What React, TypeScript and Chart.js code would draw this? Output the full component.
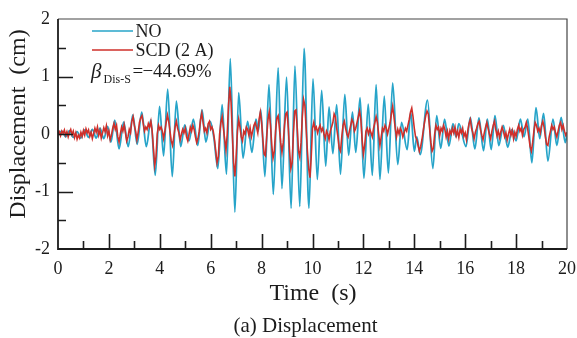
import React, { useEffect, useRef } from 'react';
import { Chart, registerables } from 'chart.js';

Chart.register(...registerables);

// ---- data ----
const xTickValues = [0, 2, 4, 6, 8, 10, 12, 14, 16, 18, 20];
const yTickValues = [-2, -1, 0, 1, 2];
const seriesNames = ['NO', 'SCD (2 A)'];

// NO (uncontrolled) – turning points of the response, time in s
const noTime = [0, 0.15, 0.3, 0.45, 0.6, 0.75, 0.9, 1.05, 1.2, 1.35, 1.5, 1.65, 1.8, 1.95, 2.08, 2.23, 2.4, 2.58, 2.76, 2.94,
  3.11, 3.29, 3.47, 3.65, 3.82, 3.99, 4.15, 4.31, 4.49, 4.65, 4.82, 4.98, 5.15, 5.32, 5.49, 5.66, 5.81, 5.98, 6.12, 6.28,
  6.45, 6.62, 6.77, 6.95, 7.1, 7.27, 7.45, 7.62, 7.78, 7.87, 7.97, 8.13, 8.29, 8.46, 8.65, 8.8, 8.98, 9.16, 9.31, 9.5,
  9.67, 9.86, 10.02, 10.19, 10.36, 10.52, 10.65, 10.8, 10.95, 11.1, 11.27, 11.42, 11.57, 11.7, 11.87, 12.02, 12.19, 12.35, 12.5, 12.65,
  12.82, 12.98, 13.15, 13.35, 13.5, 13.72, 13.86, 14.0, 14.1, 14.23, 14.52, 14.73, 14.88, 15.04, 15.19, 15.36, 15.52, 15.64, 15.75, 16.03,
  16.2, 16.38, 16.54, 16.72, 16.87, 17.02, 17.17, 17.32, 17.5, 17.67, 17.84, 18.0, 18.17, 18.31, 18.46, 18.62, 18.78, 18.93, 19.08, 19.25,
  19.45, 19.6, 19.77, 19.93, 20];
const noDisp = [0, 0.05, -0.05, 0.06, -0.06, 0.04, -0.07, 0.07, -0.06, 0.08, -0.07, 0.1, -0.08, 0.13, -0.14, 0.24, -0.26, 0.21, -0.22, 0.33,
  -0.18, 0.38, -0.22, 0.25, -0.72, 0.48, -0.38, 0.78, -0.74, 0.57, -0.22, 0.16, -0.12, 0.26, -0.2, 0.42, -0.14, 0.22, -0.05, -0.6,
  0.51, -0.7, 1.31, -1.36, 0.72, -0.42, 0.22, -0.32, 0.26, 0.05, 0.42, -0.74, 0.86, -1.05, 1.15, -0.95, 0.99, -1.29, 1.18, -1.26,
  1.49, -1.29, 0.96, -0.79, 0.76, -0.56, 0.47, -0.34, 0.51, -0.7, 0.69, -0.37, 0.38, -0.32, 0.63, -0.77, 0.52, -0.72, 0.86, -0.79,
  0.66, -0.68, 0.89, -0.53, 0.2, -0.27, 0.38, -0.3, -0.05, -0.36, 0.59, -0.6, 0.32, -0.25, 0.26, -0.21, 0.18, -0.05, 0.18, -0.22,
  0.29, -0.26, 0.28, -0.29, 0.26, -0.27, 0.32, -0.2, 0.15, -0.23, 0.08, -0.12, 0.26, -0.05, 0.26, -0.5, 0.46, -0.08, 0.36, -0.47,
  0.26, -0.2, 0.29, -0.15, 0];

// SCD (2 A) – sampled every 0.05 s from 0 to 20 s
const scdStep = 0.05;
const scdDisp = [
  0.0, 0.04, -0.03, 0.05, 0.01, 0.07, -0.02, 0.04, -0.05, 0.03, 0.08, -0.01, 0.05, -0.06, 0.02, -0.09, -0.02, -0.07, 0.03, -0.04,
  0.06, -0.02, 0.09, 0.02, 0.07, -0.04, 0.03, -0.08, 0.01, 0.1, 0.03, 0.12, -0.02, 0.06, -0.07, 0.02, 0.11, 0.04, 0.14, -0.03,
  0.05, -0.1, -0.02, 0.1, 0.18, 0.08, 0.15, -0.05, -0.14, 0.0, 0.12, 0.05, 0.16, 0.02, -0.12, -0.05, 0.08, 0.02, 0.22, 0.3,
  0.15, 0.05, -0.1, 0.03, 0.2, 0.28, 0.32, 0.18, 0.05, 0.12, 0.08, 0.18, 0.12, 0.22, 0.05, -0.25, -0.55, -0.4, 0.0, 0.15,
  0.08, 0.12, 0.05, -0.08, 0.05, 0.2, 0.33, 0.22, 0.05, -0.12, -0.2, -0.05, 0.12, 0.22, 0.1, 0.02, -0.1, 0.0, 0.08, 0.02,
  0.1, -0.05, -0.12, 0.0, 0.12, 0.05, 0.15, 0.08, -0.05, -0.15, -0.08, 0.05, 0.25, 0.36, 0.2, 0.05, 0.1, 0.02, 0.18, 0.22,
  0.08, 0.12, 0.05, -0.1, -0.3, -0.5, -0.4, 0.0, 0.2, 0.3, 0.1, -0.1, -0.28, 0.0, 0.5, 0.82, 0.55, 0.0, -0.5, -0.74,
  -0.4, 0.05, 0.25, 0.12, -0.05, -0.12, 0.05, 0.0, 0.12, 0.08, -0.02, 0.1, -0.05, 0.05, 0.15, 0.2, 0.12, 0.02, 0.25, 0.38,
  0.2, -0.1, -0.35, -0.38, -0.05, 0.25, 0.38, 0.15, -0.2, -0.42, -0.3, 0.05, 0.28, 0.32, 0.1, -0.15, -0.32, -0.15, 0.15, 0.35,
  0.38, 0.1, -0.3, -0.6, -0.5, 0.0, 0.4, 0.42, 0.1, -0.3, -0.4, -0.15, 0.3, 0.6, 0.5, 0.1, -0.3, -0.6, -0.76, -0.4,
  0.1, 0.2, 0.08, 0.12, 0.02, 0.1, 0.15, 0.05, 0.1, 0.0, -0.08, 0.05, 0.0, -0.1, 0.05, 0.12, 0.2, 0.35, 0.3, 0.1,
  -0.05, -0.25, -0.3, -0.05, 0.15, 0.22, 0.1, 0.0, -0.05, 0.05, 0.15, 0.25, 0.2, 0.05, 0.1, 0.2, 0.3, 0.4, 0.25, -0.1,
  -0.35, -0.2, 0.05, 0.1, 0.0, 0.08, 0.02, -0.05, 0.1, 0.2, 0.3, 0.2, 0.0, -0.2, -0.05, 0.1, 0.05, 0.15, 0.1, 0.0,
  0.1, 0.2, 0.35, 0.48, 0.3, 0.1, -0.05, 0.08, 0.0, 0.1, 0.05, -0.05, 0.02, 0.1, 0.05, 0.15, 0.25, 0.38, 0.45, 0.3,
  0.1, -0.05, -0.1, -0.2, -0.3, -0.22, -0.1, 0.05, 0.2, 0.32, 0.4, 0.35, 0.1, -0.15, -0.3, -0.25, 0.0, 0.15, 0.08, 0.12,
  -0.02, 0.1, 0.05, 0.15, 0.08, -0.05, 0.05, -0.08, 0.06, 0.0, 0.1, 0.02, 0.12, -0.03, 0.05, -0.06, 0.08, 0.02, 0.1, -0.04,
  0.02, -0.1, 0.05, 0.18, 0.25, 0.1, 0.02, -0.08, 0.03, 0.1, 0.18, 0.22, 0.08, -0.02, -0.1, 0.02, 0.12, 0.2, 0.1, 0.0,
  -0.08, 0.05, 0.15, 0.22, 0.08, -0.03, 0.05, -0.06, 0.04, 0.12, 0.05, -0.05, 0.02, -0.1, 0.0, 0.08, -0.02, 0.06, -0.08, 0.03,
  -0.04, 0.08, 0.15, 0.05, 0.1, -0.02, 0.08, 0.12, 0.2, 0.1, -0.05, -0.22, -0.3, -0.15, 0.05, 0.2, 0.15, 0.05, 0.1, 0.02,
  0.15, 0.22, 0.12, -0.05, -0.18, -0.2, -0.05, 0.05, 0.15, 0.08, 0.12, 0.02, -0.05, 0.05, 0.15, 0.2, 0.08, 0.15, 0.05, -0.02,
  0.03,
];

const BLUE = '#27a4c9';
const RED = '#cf2f2a';
const INK = '#1c1c1c';
const SERIF = '"Liberation Serif", "Times New Roman", serif';

const decorPlugin = {
  id: 'decor',
  afterDraw(chart: any) {
    const { ctx, chartArea: a, scales } = chart;
    const x = scales.x;
    const y = scales.y;
    ctx.save();
    // frame (top/right)
    ctx.strokeStyle = '#444';
    ctx.lineWidth = 1.2;
    ctx.beginPath();
    ctx.moveTo(a.left, a.top);
    ctx.lineTo(a.right, a.top);
    ctx.lineTo(a.right, a.bottom);
    ctx.stroke();
    // axes
    ctx.strokeStyle = INK;
    ctx.lineWidth = 1.8;
    ctx.beginPath();
    ctx.moveTo(a.left, a.top);
    ctx.lineTo(a.left, a.bottom);
    ctx.lineTo(a.right, a.bottom);
    ctx.stroke();
    // ticks (inward)
    ctx.lineWidth = 1.6;
    ctx.beginPath();
    for (let v = 1; v < 20; v += 1) {
      const px = Math.round(x.getPixelForValue(v)) + 0.5;
      const len = v % 2 === 0 ? 15 : 8;
      ctx.moveTo(px, a.bottom);
      ctx.lineTo(px, a.bottom - len);
    }
    for (let k = -3; k <= 3; k += 1) {
      const v = k * 0.5;
      const py = Math.round(y.getPixelForValue(v)) + 0.5;
      const len = k % 2 === 0 ? 15 : 8;
      ctx.moveTo(a.left, py);
      ctx.lineTo(a.left + len, py);
    }
    ctx.stroke();

    // legend
    ctx.lineWidth = 1.7;
    ctx.strokeStyle = BLUE;
    ctx.beginPath();
    ctx.moveTo(92, 31);
    ctx.lineTo(133, 31);
    ctx.stroke();
    ctx.strokeStyle = RED;
    ctx.beginPath();
    ctx.moveTo(92, 50);
    ctx.lineTo(133, 50);
    ctx.stroke();
    ctx.fillStyle = INK;
    ctx.textAlign = 'left';
    ctx.textBaseline = 'alphabetic';
    ctx.font = `18px ${SERIF}`;
    ctx.fillText(seriesNames[0], 135.5, 37);
    ctx.fillText(seriesNames[1], 135.5, 55.5);

    // beta annotation
    ctx.font = `italic 21px ${SERIF}`;
    ctx.fillText('β', 91, 78);
    ctx.font = `12px ${SERIF}`;
    ctx.fillText('Dis-S', 103.5, 83);
    ctx.font = `19px ${SERIF}`;
    ctx.fillText('=', 132.5, 77);
    ctx.fillText('−', 142.5, 77);
    ctx.fillText('44.69%', 153, 77);

    // axis titles
    ctx.font = `24px ${SERIF}`;
    ctx.textAlign = 'center';
    ctx.fillText('Time  (s)', 313, 300);
    ctx.save();
    ctx.translate(25, 124);
    ctx.rotate(-Math.PI / 2);
    ctx.fillText('Displacement  (cm)', 0, 0);
    ctx.restore();

    // caption
    ctx.font = `21px ${SERIF}`;
    ctx.fillText('(a) Displacement', 305.5, 332);
    ctx.restore();
  },
};

export default function App() {
  const canvasRef = useRef<HTMLCanvasElement | null>(null);

  useEffect(() => {
    document.body.style.margin = '0';
    const canvas = canvasRef.current;
    if (!canvas) return;
    const noData = noTime.map((t, i) => ({ x: t, y: noDisp[i] }));
    const scdData = scdDisp.map((v, i) => ({ x: +(i * scdStep).toFixed(2), y: v }));
    const chart = new Chart(canvas, {
      type: 'line',
      data: {
        datasets: [
          {
            label: seriesNames[0],
            data: noData,
            borderColor: BLUE,
            borderWidth: 1.8,
            pointRadius: 0,
            cubicInterpolationMode: 'monotone',
            order: 2,
          },
          {
            label: seriesNames[1],
            data: scdData,
            borderColor: RED,
            borderWidth: 1.6,
            pointRadius: 0,
            tension: 0,
            order: 1,
          },
        ],
      },
      options: {
        animation: false,
        responsive: false,
        maintainAspectRatio: false,
        events: [],
        layout: { padding: { left: 0, right: 10, top: 19, bottom: 0 } },
        plugins: { legend: { display: false }, tooltip: { enabled: false } },
        scales: {
          x: {
            type: 'linear',
            min: 0,
            max: 20,
            afterBuildTicks: (s: any) => {
              s.ticks = xTickValues.map((v) => ({ value: v }));
            },
            afterFit: (s: any) => {
              s.height = 89;
              s.paddingLeft = 0;
              s.paddingRight = 0;
            },
            grid: { display: false, drawTicks: false },
            border: { display: false },
            ticks: {
              padding: 9,
              maxRotation: 0,
              autoSkip: false,
              color: INK,
              font: { family: SERIF, size: 18 },
            },
          },
          y: {
            type: 'linear',
            min: -2,
            max: 2,
            afterBuildTicks: (s: any) => {
              s.ticks = yTickValues.map((v) => ({ value: v }));
            },
            afterFit: (s: any) => {
              s.width = 58;
              s.paddingTop = 0;
              s.paddingBottom = 0;
            },
            grid: { display: false, drawTicks: false },
            border: { display: false },
            ticks: {
              padding: 8,
              autoSkip: false,
              color: INK,
              font: { family: SERIF, size: 18 },
              callback: (v: any) => String(v),
            },
          },
        },
      },
      plugins: [decorPlugin],
    });
    return () => chart.destroy();
  }, []);

  return (
    <div style={{ position: 'absolute', left: 0, top: 0, width: 577, height: 338, background: '#fff' }}>
      <canvas ref={canvasRef} width={577} height={338} style={{ display: 'block', width: 577, height: 338 }} />
    </div>
  );
}
